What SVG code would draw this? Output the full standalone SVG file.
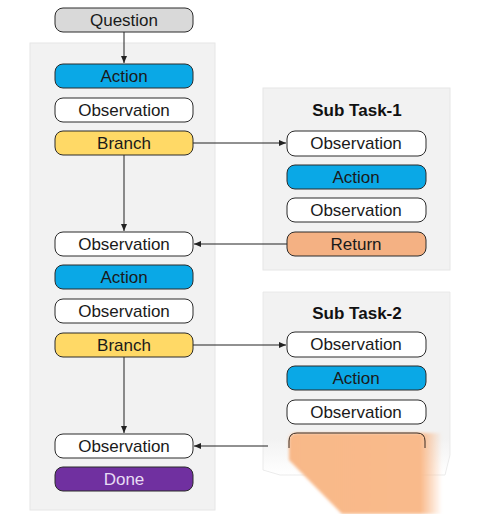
<svg xmlns="http://www.w3.org/2000/svg" width="481" height="514" viewBox="0 0 481 514">
<style>
.panel{fill:#f2f2f2;stroke:#e6e6e6;stroke-width:1}
.n{stroke:#2b2b2b;stroke-width:1}
.t{font-family:"Liberation Sans",Arial,sans-serif;font-size:17px;text-anchor:middle;fill:#1a1a1a}
.h{font-family:"Liberation Sans",Arial,sans-serif;font-size:17px;font-weight:bold;text-anchor:middle;fill:#111}
.q{fill:#d9d9d9}.a{fill:#0aa8e6}.o{fill:#ffffff}.b{fill:#ffd966}.r{fill:#f4b183}.d{fill:#7030a0}
.c{stroke:#222;stroke-width:1;fill:none;marker-end:url(#ah)}
</style>
<defs>
<marker id="ah" markerWidth="8" markerHeight="8" refX="7" refY="4" orient="auto" markerUnits="userSpaceOnUse">
<path d="M0,1 L7,4 L0,7 Z" fill="#222"/>
</marker>
<linearGradient id="fade" x1="0" y1="0" x2="0" y2="1">
<stop offset="0" stop-color="#f2f2f2" stop-opacity="1"/>
<stop offset="0.8" stop-color="#f2f2f2" stop-opacity="1"/>
<stop offset="1" stop-color="#f2f2f2" stop-opacity="0"/>
</linearGradient>
<linearGradient id="orfade" gradientUnits="userSpaceOnUse" x1="289" y1="0" x2="442" y2="0">
<stop offset="0" stop-color="#f8b888"/>
<stop offset="0.86" stop-color="#f9ba8b"/>
<stop offset="1" stop-color="#f9ba8b" stop-opacity="0"/>
</linearGradient>
<filter id="blur" x="-10%" y="-10%" width="120%" height="120%"><feGaussianBlur stdDeviation="1.5"/></filter>
</defs>
<rect width="481" height="514" fill="#ffffff"/>
<g id="panel-main"><rect class="panel" x="30" y="43" width="185" height="467"/></g>
<g id="panel-sub1"><rect class="panel" x="263" y="88" width="187" height="182"/>
<text class="h" x="357" y="116">Sub Task-1</text></g>
<g id="panel-sub2"><path d="M263,292 H450 V455 L445,475 H280 L263,470 Z" fill="url(#fade)" stroke="#e6e6e6" stroke-opacity="0.8"/>
<text class="h" x="357" y="319">Sub Task-2</text></g>

<g id="connectors">
<line class="c" x1="124" y1="32" x2="124" y2="63"/>
<line class="c" x1="124" y1="155" x2="124" y2="231"/>
<line class="c" x1="193" y1="143" x2="286" y2="143"/>
<line class="c" x1="287" y1="244" x2="194" y2="244"/>
<line class="c" x1="124" y1="357" x2="124" y2="433"/>
<line class="c" x1="193" y1="345" x2="286" y2="345"/>
<line class="c" x1="268" y1="446" x2="194" y2="446"/>
</g>

<g id="question"><rect class="n q" x="55" y="8" width="138" height="24" rx="8"/><text class="t" x="124" y="26">Question</text></g>
<g id="action1"><rect class="n a" x="55" y="64" width="138" height="24" rx="8"/><text class="t" x="124" y="82">Action</text></g>
<g id="obs1"><rect class="n o" x="55" y="98" width="138" height="24" rx="8"/><text class="t" x="124" y="116">Observation</text></g>
<g id="branch1"><rect class="n b" x="55" y="131" width="138" height="24" rx="8"/><text class="t" x="124" y="149">Branch</text></g>
<g id="obs2"><rect class="n o" x="55" y="232" width="138" height="24" rx="8"/><text class="t" x="124" y="250">Observation</text></g>
<g id="action2"><rect class="n a" x="55" y="265" width="138" height="24" rx="8"/><text class="t" x="124" y="283">Action</text></g>
<g id="obs3"><rect class="n o" x="55" y="299" width="138" height="24" rx="8"/><text class="t" x="124" y="317">Observation</text></g>
<g id="branch2"><rect class="n b" x="55" y="333" width="138" height="24" rx="8"/><text class="t" x="124" y="351">Branch</text></g>
<g id="obs4"><rect class="n o" x="55" y="434" width="138" height="24" rx="8"/><text class="t" x="124" y="452">Observation</text></g>
<g id="done"><rect class="n d" x="55" y="467" width="138" height="24" rx="8"/><text class="t" x="124" y="485" style="fill:#e8dcf4">Done</text></g>

<g id="s1-obs1"><rect class="n o" x="287" y="131" width="139" height="25" rx="8"/><text class="t" x="356" y="149">Observation</text></g>
<g id="s1-action"><rect class="n a" x="287" y="165" width="139" height="24" rx="8"/><text class="t" x="356" y="183">Action</text></g>
<g id="s1-obs2"><rect class="n o" x="287" y="198" width="139" height="24" rx="8"/><text class="t" x="356" y="216">Observation</text></g>
<g id="s1-return"><rect class="n r" x="287" y="232" width="139" height="24" rx="8"/><text class="t" x="356" y="250">Return</text></g>

<g id="s2-obs1"><rect class="n o" x="287" y="332" width="139" height="25" rx="8"/><text class="t" x="356" y="350">Observation</text></g>
<g id="s2-action"><rect class="n a" x="287" y="366" width="139" height="24" rx="8"/><text class="t" x="356" y="384">Action</text></g>
<g id="s2-obs2"><rect class="n o" x="287" y="400" width="139" height="24" rx="8"/><text class="t" x="356" y="418">Observation</text></g>
<g id="s2-smear">
<path d="M289,441 Q289,433 297,433 H442 V514 H342 L289,460 Z" fill="url(#orfade)" filter="url(#blur)"/>
<path d="M289,448 V441 Q289,433 297,433 H417 Q425,433 425,441 V448" fill="none" stroke="#3a2a20" stroke-width="1"/>
</g>
</svg>
